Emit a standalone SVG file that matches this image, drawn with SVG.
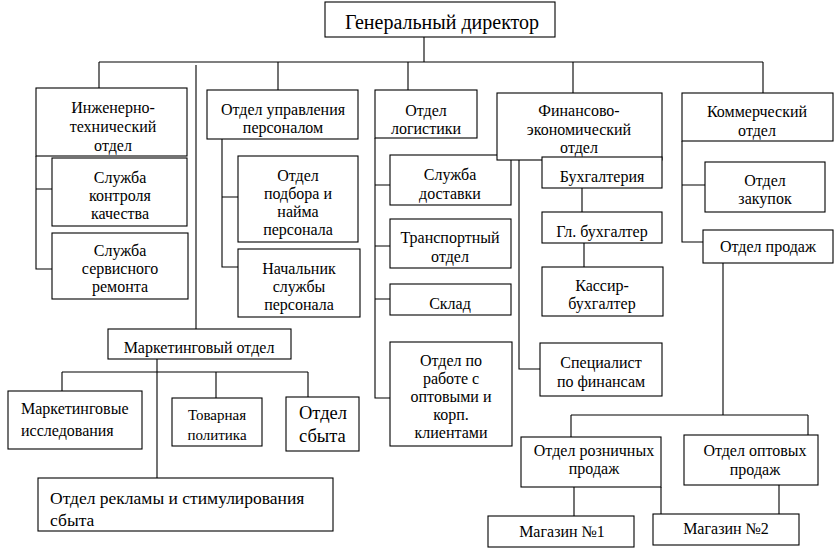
<svg xmlns="http://www.w3.org/2000/svg" width="839" height="549" viewBox="0 0 839 549" font-family="'Liberation Serif', 'DejaVu Serif', serif">
<style>
rect{fill:#fff;stroke:#000;stroke-width:1.1}
text{font-family:'Liberation Serif','DejaVu Serif',serif;font-size:16px;fill:#000;text-anchor:middle}
.l{text-anchor:start}
.c path{fill:none;stroke:#000;stroke-width:1.1}
</style>
<rect x="0" y="0" width="839" height="549" style="stroke:none"/>
<g class="c" id="connectors">
<path d="M424 37V62M99 62H763M99 62V88M278 62V90M408 62V90M573 62V93M763 62V93"/>
<path d="M196 65V329"/>
<path d="M36 156V269H53M36 189H52"/>
<path d="M222 139V267H238M222 197H238"/>
<path d="M375 138V398H390M375 185H390M375 246H390M375 299H390"/>
<path d="M519 160V369H540M582 188V212M584 243V267"/>
<path d="M682 141V242H703M682 185H705"/>
<path d="M723 263V415M571 415H808M571 415V437M808 415V435"/>
<path d="M574 487V516M661 487V514M779 485V514"/>
<path d="M157 359V478M62 372H308M62 372V391M216 372V398M308 372V397"/>
</g>
<g id="gen"><rect x="325" y="2" width="230" height="35"/><text x="442" y="29" style="font-size:20px">Генеральный директор</text></g>
<g id="eng"><rect x="36" y="88" width="151" height="68"/><text x="113" y="113">Инженерно-</text><text x="113" y="132">технический</text><text x="113" y="151">отдел</text></g>
<g id="quality"><rect x="52" y="158" width="135" height="68"/><text x="120" y="183">Служба</text><text x="120" y="201">контроля</text><text x="120" y="219">качества</text></g>
<g id="service"><rect x="52" y="233" width="136" height="66"/><text x="120" y="256">Служба</text><text x="120" y="274">сервисного</text><text x="120" y="292">ремонта</text></g>
<g id="hr"><rect x="207" y="90" width="151" height="49"/><text x="283" y="115">Отдел управления</text><text x="283" y="133">персоналом</text></g>
<g id="hiring"><rect x="238" y="156" width="120" height="86"/><text x="298" y="181">Отдел</text><text x="298" y="199">подбора и</text><text x="298" y="217">найма</text><text x="298" y="235">персонала</text></g>
<g id="hrhead"><rect x="238" y="249" width="122" height="68"/><text x="299" y="274">Начальник</text><text x="299" y="292">службы</text><text x="299" y="310">персонала</text></g>
<g id="log"><rect x="375" y="90" width="102" height="48"/><text x="426" y="116">Отдел</text><text x="426" y="134">логистики</text></g>
<g id="delivery"><rect x="390" y="155" width="121" height="50"/><text x="450" y="180">Служба</text><text x="450" y="199">доставки</text></g>
<g id="transport"><rect x="390" y="219" width="121" height="49"/><text x="450" y="243">Транспортный</text><text x="450" y="262">отдел</text></g>
<g id="warehouse"><rect x="390" y="284" width="121" height="31"/><text x="450" y="309">Склад</text></g>
<g id="corp"><rect x="390" y="342" width="122" height="104"/><text x="451" y="366">Отдел по</text><text x="451" y="384">работе с</text><text x="451" y="402">оптовыми и</text><text x="451" y="420">корп.</text><text x="451" y="438">клиентами</text></g>
<g id="fin"><rect x="497" y="93" width="165" height="67"/><text x="579" y="116">Финансово-</text><text x="579" y="135">экономический</text><text x="579" y="153">отдел</text></g>
<g id="acc"><rect x="542" y="157" width="120" height="31"/><text x="602" y="182">Бухгалтерия</text></g>
<g id="chief"><rect x="542" y="212" width="120" height="31"/><text x="602" y="237">Гл. бухгалтер</text></g>
<g id="cashier"><rect x="542" y="267" width="121" height="49"/><text x="602" y="291">Кассир-</text><text x="602" y="309">бухгалтер</text></g>
<g id="finspec"><rect x="540" y="343" width="122" height="53"/><text x="601" y="368">Специалист</text><text x="601" y="387">по финансам</text></g>
<g id="com"><rect x="682" y="93" width="151" height="48"/><text x="757" y="117">Коммерческий</text><text x="757" y="136">отдел</text></g>
<g id="purchase"><rect x="705" y="162" width="120" height="50"/><text x="765" y="186">Отдел</text><text x="765" y="204">закупок</text></g>
<g id="sales"><rect x="703" y="230" width="130" height="33"/><text x="768" y="252">Отдел продаж</text></g>
<g id="retail"><rect x="521" y="437" width="140" height="50"/><text x="594" y="456">Отдел розничных</text><text x="594" y="474">продаж</text></g>
<g id="wholesale"><rect x="684" y="435" width="134" height="50"/><text x="755" y="456">Отдел оптовых</text><text x="755" y="475">продаж</text></g>
<g id="shop1"><rect x="488" y="516" width="146" height="31"/><text x="562" y="537">Магазин №1</text></g>
<g id="shop2"><rect x="653" y="514" width="146" height="31"/><text x="726" y="534">Магазин №2</text></g>
<g id="mkt"><rect x="108" y="329" width="183" height="30"/><text x="199" y="353">Маркетинговый отдел</text></g>
<g id="research"><rect x="8" y="391" width="134" height="58"/><text class="l" x="21" y="414">Маркетинговые</text><text class="l" x="21" y="436">исследования</text></g>
<g id="product"><rect x="172" y="398" width="90" height="48"/><text x="217" y="420" style="font-size:15px">Товарная</text><text x="217" y="440" style="font-size:15px">политика</text></g>
<g id="salesdept"><rect x="286" y="397" width="73" height="54"/><text class="l" x="299" y="419" style="font-size:18.5px">Отдел</text><text class="l" x="299" y="442" style="font-size:18.5px">сбыта</text></g>
<g id="ads"><rect x="38" y="478" width="295" height="53"/><text class="l" x="50" y="504" style="font-size:17.5px">Отдел рекламы и стимулирования</text><text class="l" x="50" y="526" style="font-size:17.5px">сбыта</text></g>
</svg>
